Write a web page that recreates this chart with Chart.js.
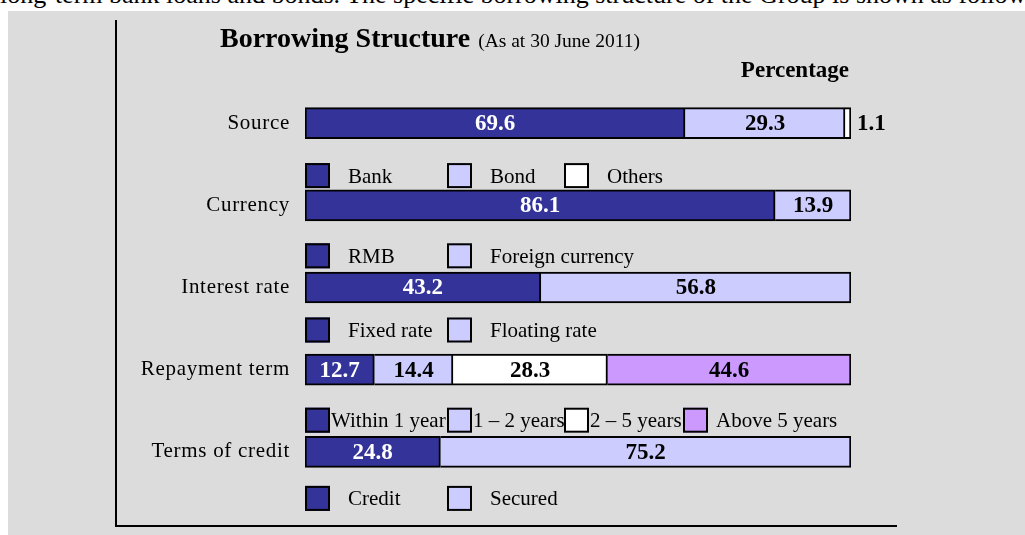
<!DOCTYPE html>
<html lang="en">
<head>
<meta charset="UTF-8">
<title>Borrowing Structure</title>
<script src="https://cdn.jsdelivr.net/npm/chart.js"></script>
<style>
* { margin: 0; padding: 0; box-sizing: border-box; }
body {
    width: 1025px;
    height: 535px;
    overflow: hidden;
    background: #fff;
    position: relative;
    font-family: 'Liberation Serif', serif;
}
.intro {
    position: absolute;
    left: 0;
    top: -18px;
    font-size: 26px;
    line-height: 26px;
    white-space: nowrap;
    color: #000;
}
.panel {
    position: absolute;
    left: 8px;
    top: 11px;
    right: 0;
    bottom: 0;
    background: #dcdcdc;
}
#chart { position: absolute; left: 0; top: 0; }
</style>
</head>
<body>
<div class="intro">long-term bank loans and bonds. The specific borrowing structure of the Group is shown as follows:</div>
<div class="panel"></div>
<canvas id="chart" width="1025" height="535"></canvas>

<script>
// data (percentages, as at 30 June 2011)
const categories = ['Source', 'Currency', 'Interest rate', 'Repayment term', 'Terms of credit'];
const part1 = [69.6, 86.1, 43.2, 12.7, 24.8];
const part2 = [29.3, 13.9, 56.8, 14.4, 75.2];
const part3 = [1.1, null, null, 28.3, null];
const part4 = [null, null, null, 44.6, null];
const legendNames = [
    ['Bank', 'Bond', 'Others'],
    ['RMB', 'Foreign currency'],
    ['Fixed rate', 'Floating rate'],
    ['Within 1 year', '1 – 2 years', '2 – 5 years', 'Above 5 years'],
    ['Credit', 'Secured']
];

const colors = ['#333399', '#ccccff', '#ffffff', '#cc99ff'];
const serif = 'Liberation Serif';

// a bit of tracking on the category labels, like the original
const spacingPlugin = {
    id: 'spacing',
    beforeDraw(chart) { chart.ctx.letterSpacing = '0.7px'; },
    beforeDatasetsDraw(chart) { chart.ctx.letterSpacing = '0px'; }
};

// title, "Percentage" and the L frame
const decoPlugin = {
    id: 'deco',
    afterDraw(chart) {
        const ctx = chart.ctx;
        const area = chart.chartArea;
        ctx.save();
        ctx.strokeStyle = '#000';
        ctx.lineWidth = 2;
        ctx.beginPath();
        ctx.moveTo(116, 20);
        ctx.lineTo(116, 526);
        ctx.lineTo(897, 526);
        ctx.stroke();

        ctx.fillStyle = '#000';
        ctx.textBaseline = 'alphabetic';
        ctx.textAlign = 'left';
        ctx.font = 'bold 28px "' + serif + '"';
        const t = 'Borrowing Structure';
        ctx.fillText(t, 220, 47);
        const w = ctx.measureText(t).width;
        ctx.font = '19.5px "' + serif + '"';
        ctx.fillText('(As at 30 June 2011)', 220 + w + 8, 47);

        ctx.font = 'bold 23px "' + serif + '"';
        ctx.textAlign = 'right';
        ctx.fillText('Percentage', area.right - 2, 77);
        ctx.restore();
    }
};

// numbers on the bars
const valuePlugin = {
    id: 'values',
    afterDatasetsDraw(chart) {
        const ctx = chart.ctx;
        ctx.save();
        ctx.font = 'bold 23px "' + serif + '"';
        ctx.textBaseline = 'middle';
        chart.data.datasets.forEach((ds, di) => {
            chart.getDatasetMeta(di).data.forEach((bar, i) => {
                const v = ds.data[i];
                if (v == null) return;
                const txt = v.toFixed(1);
                if (bar.x - bar.base < 24) {
                    ctx.fillStyle = '#000';
                    ctx.textAlign = 'left';
                    ctx.fillText(txt, bar.x + 6, bar.y + 1);
                } else {
                    ctx.fillStyle = di === 0 ? '#fff' : '#000';
                    ctx.textAlign = 'center';
                    ctx.fillText(txt, (bar.x + bar.base) / 2, bar.y + 1);
                }
            });
        });
        ctx.restore();
    }
};

// little legend row under each bar
const rowLegendPlugin = {
    id: 'rowLegend',
    afterDraw(chart) {
        const ctx = chart.ctx;
        const left = chart.chartArea.left;
        const slots = [0, 142, 259, 378];
        const drop = [52, 50, 42, 50, 46];
        const meta = chart.getDatasetMeta(0);
        ctx.save();
        ctx.font = '21px "' + serif + '"';
        ctx.textBaseline = 'middle';
        ctx.textAlign = 'left';
        legendNames.forEach((names, i) => {
            const cy = meta.data[i].y + drop[i];
            const crowded = names.length > 3;
            names.forEach((name, k) => {
                const bx = left + slots[k];
                ctx.fillStyle = colors[k];
                ctx.fillRect(bx, cy - 12, 25, 25);
                ctx.strokeStyle = '#000';
                ctx.lineWidth = 2;
                ctx.strokeRect(bx + 1, cy - 11, 23, 23);
                ctx.fillStyle = '#000';
                const gap = crowded ? (k === 3 ? 33 : 26) : 43;
                ctx.fillText(name, bx + gap, cy + 2);
            });
        });
        ctx.restore();
    }
};

const ctx = document.getElementById('chart').getContext('2d');
new Chart(ctx, {
    type: 'bar',
    data: {
        labels: categories,
        datasets: [part1, part2, part3, part4].map((d, i) => ({
            data: d,
            backgroundColor: colors[i],
            borderColor: '#000',
            borderWidth: 2,
            borderSkipped: i === 0 ? false : 'start',
            barThickness: 31
        }))
    },
    options: {
        indexAxis: 'y',
        responsive: false,
        animation: false,
        layout: { padding: { left: 0, right: 174, top: 82, bottom: 42 } },
        plugins: {
            legend: { display: false },
            tooltip: { enabled: false }
        },
        scales: {
            x: { stacked: true, min: 0, max: 100, display: false },
            y: {
                stacked: true,
                grid: { display: false },
                border: { display: false },
                ticks: {
                    color: '#000',
                    padding: 7,
                    font: { family: serif, size: 21 }
                },
                afterFit(scale) { scale.width = 305; }
            }
        }
    },
    plugins: [spacingPlugin, decoPlugin, valuePlugin, rowLegendPlugin]
});
</script>
</body>
</html>
